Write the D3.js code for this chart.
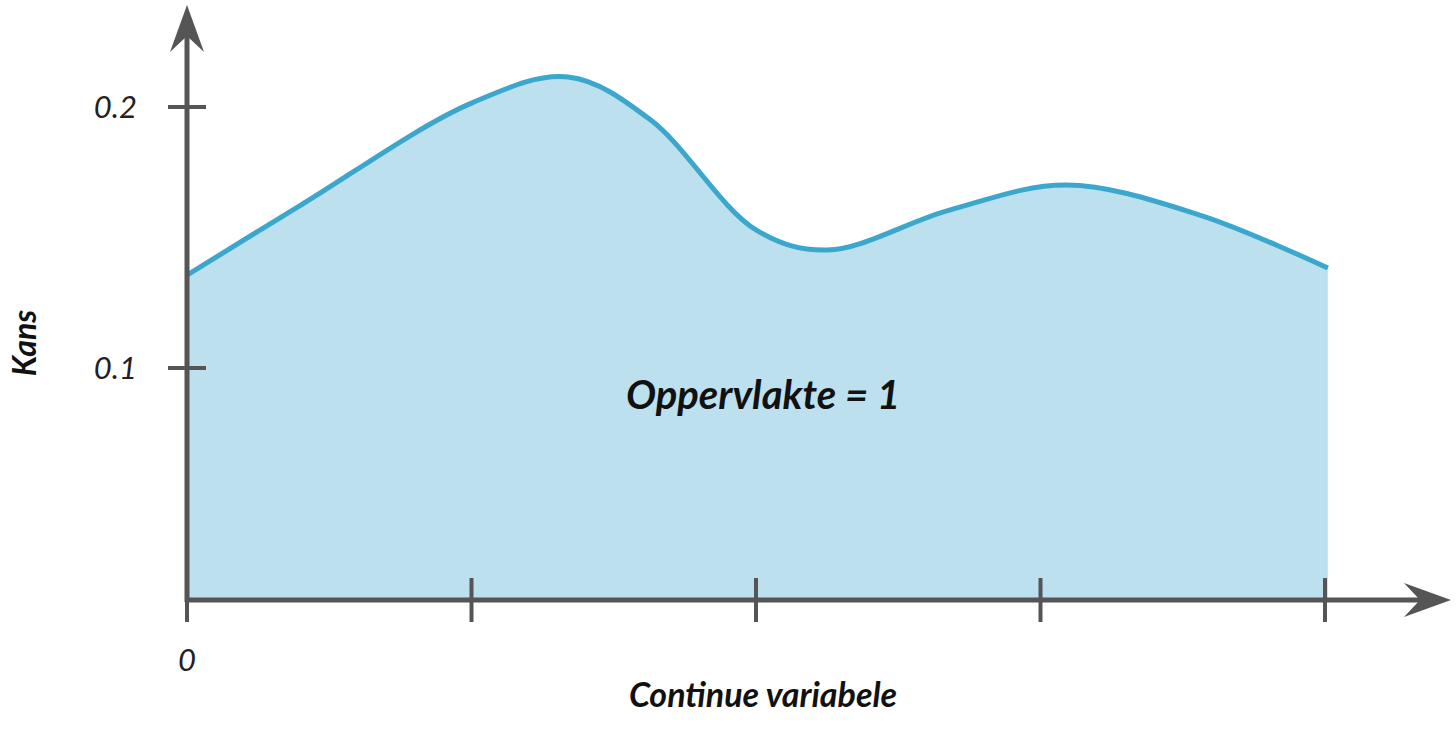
<!DOCTYPE html>
<html><head><meta charset="utf-8">
<script src="https://cdn.jsdelivr.net/npm/d3@7"></script>
<style>body{margin:0;background:#fff}text{font-family:Lato,sans-serif;font-style:italic}</style>
</head><body><svg width="1456" height="736"></svg>
<script>
var xs = [0, 0.4, 1.0, 1.34, 1.63, 2.0, 2.25, 2.68, 3.09, 3.56, 4.01];
var ys = [0.1356, 0.1624, 0.2015, 0.2115, 0.195, 0.1529, 0.1452, 0.1605, 0.1701, 0.1586, 0.1383];
var xTicks = [0, 1, 2, 3, 4];
var yTicks = [0.1, 0.2];

var svg = d3.select('svg');
var x = d3.scaleLinear().domain([0, 4]).range([187, 1325]);
var y = d3.scaleLinear().domain([0.1, 0.2]).range([368, 107]);
var base = 600, axisCol = '#555';
var curve = d3.curveCatmullRom.alpha(0.5);

var pts = xs.map(function(d, i){ return [d, ys[i]]; });
svg.append('path').datum(pts)
  .attr('d', d3.area().x(function(d){return x(d[0]);}).y0(base).y1(function(d){return y(d[1]);}).curve(curve))
  .attr('fill', '#bde0ef');
svg.append('path').datum(pts)
  .attr('d', d3.line().x(function(d){return x(d[0]);}).y(function(d){return y(d[1]);}).curve(curve))
  .attr('fill', 'none').attr('stroke', '#3ba7cc').attr('stroke-width', 5);

// axes
svg.append('line').attr('x1', 187).attr('x2', 187).attr('y1', base + 2).attr('y2', 20).attr('stroke', axisCol).attr('stroke-width', 5);
svg.append('line').attr('x1', 185).attr('x2', 1435).attr('y1', base).attr('y2', base).attr('stroke', axisCol).attr('stroke-width', 5);
svg.append('path').attr('d', 'M187,5 L170,52 L187,36 L204,52 Z').attr('fill', axisCol);
svg.append('path').attr('d', 'M1451,600 L1404,583 L1420,600 L1404,617 Z').attr('fill', axisCol);

xTicks.forEach(function(t){
  svg.append('line').attr('x1', x(t)).attr('x2', x(t)).attr('y1', base - 22).attr('y2', base + 22).attr('stroke', axisCol).attr('stroke-width', 4);
});
yTicks.forEach(function(t){
  svg.append('line').attr('x1', 168).attr('x2', 206).attr('y1', y(t)).attr('y2', y(t)).attr('stroke', axisCol).attr('stroke-width', 4);
  svg.append('text').attr('x', 137).attr('y', y(t) + 11).attr('text-anchor', 'end').attr('font-size', 31).attr('fill', '#222').text(t);
});
svg.append('text').attr('x', 187).attr('y', 671).attr('text-anchor', 'middle').attr('font-size', 31).attr('fill', '#222').text('0');
svg.append('text').attr('x', 763).attr('y', 707).attr('text-anchor', 'middle').attr('font-size', 34).attr('font-weight', 'bold').attr('fill', '#111').text('Continue variabele');
svg.append('text').attr('transform', 'translate(36,343) rotate(-90)').attr('text-anchor', 'middle').attr('font-size', 32).attr('font-weight', 'bold').attr('fill', '#111').text('Kans');
svg.append('text').attr('x', 763).attr('y', 409).attr('text-anchor', 'middle').attr('font-size', 40).attr('font-weight', 'bold').attr('fill', '#111').text('Oppervlakte = 1');
</script></body></html>
